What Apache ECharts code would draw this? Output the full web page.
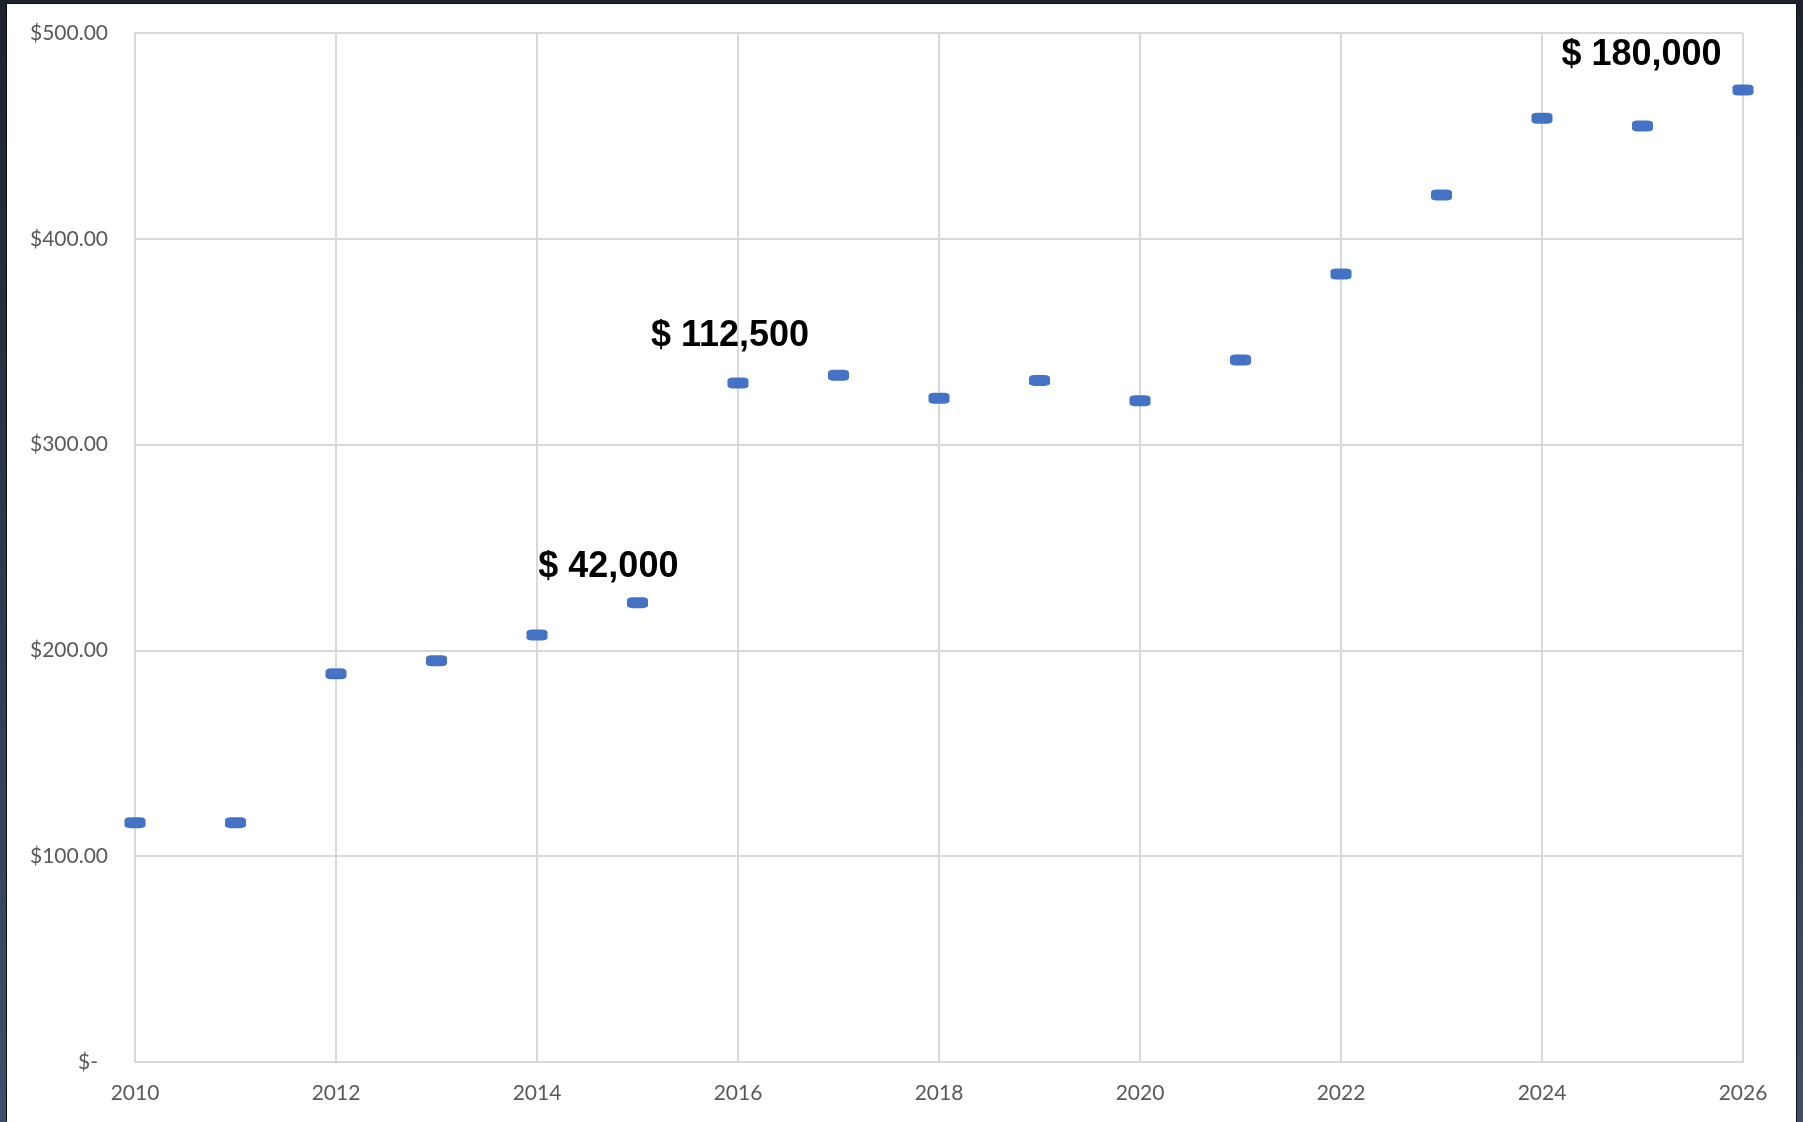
<!DOCTYPE html>
<html>
<head>
<meta charset="utf-8">
<script src="https://cdn.jsdelivr.net/npm/echarts@6/dist/echarts.min.js"></script>
<style>
html,body{margin:0;padding:0;width:1803px;height:1122px;overflow:hidden;}
body{background:linear-gradient(to bottom,#1c232d 0%,#2c3a4e 50%,#3d4f6b 100%);position:relative;}
#frame{position:absolute;left:7px;top:4px;width:1789px;height:1118px;background:#fff;box-shadow:-1px -1px 0 #0d0f12, 1px 0 0 #0d0f12;}
#chart{position:absolute;left:0;top:0;width:1803px;height:1122px;}
</style>
</head>
<body>
<div id="frame"></div>
<div id="chart"></div>
<script>
const years = [2010,2011,2012,2013,2014,2015,2016,2017,2018,2019,2020,2021,2022,2023,2024,2025,2026];
const prices = [116.3,116.3,188.6,195.0,207.5,223.2,329.9,333.7,322.5,331.2,321.3,341.1,382.9,421.3,458.6,454.8,472.3];
const noteX = [2014.71,2015.92,2024.99];
const noteY = [240.3,352.8,489.1];
const noteText = ['$ 42,000','$ 112,500','$ 180,000'];
const xTicks = [2010,2012,2014,2016,2018,2020,2022,2024,2026];
const yTicks = [0,100,200,300,400,500];

const chart = echarts.init(document.getElementById('chart'), null, {renderer:'canvas'});
const gridColor = '#d9d9d9';
const lab = {color:'#595959',fontFamily:'Lato',fontSize:21};
chart.setOption({
  animation:false,
  backgroundColor:'transparent',
  grid:{left:135,top:33,width:1608,height:1029,containLabel:false},
  xAxis:{
    type:'value',min:xTicks[0],max:xTicks[xTicks.length-1],interval:2,
    axisLine:{show:true,lineStyle:{color:gridColor,width:2}},
    axisTick:{show:false},
    splitLine:{show:true,lineStyle:{color:gridColor,width:2}},
    axisLabel:Object.assign({margin:21,formatter:v=>String(v)},lab)
  },
  yAxis:{
    type:'value',min:yTicks[0],max:yTicks[yTicks.length-1],interval:100,
    axisLine:{show:true,lineStyle:{color:gridColor,width:2}},
    axisTick:{show:false},
    splitLine:{show:true,lineStyle:{color:gridColor,width:2}},
    axisLabel:Object.assign({margin:27,
      formatter:v=> v===0 ? '{z|$-}' : '{n|$'+v.toFixed(2)+'}',
      rich:{z:Object.assign({padding:[0,10,0,0]},lab), n:Object.assign({},lab)}},lab)
  },
  series:[
    {
      type:'scatter',
      data:years.map((y,i)=>[y,prices[i]]),
      symbol:'roundRect',
      symbolSize:[21,11],
      itemStyle:{color:'#4472c4',opacity:1},
      z:3
    },
    {
      type:'scatter',
      data:noteX.map((x,i)=>({value:[x,noteY[i]],name:noteText[i]})),
      symbolSize:0,
      silent:true,
      itemStyle:{opacity:1},
      label:{show:true,position:[0,0],align:'center',verticalAlign:'middle',formatter:p=>p.name,
        fontFamily:'Liberation Sans, Arial',fontWeight:'bold',fontSize:36,color:'#000000',
        textBorderWidth:0,opacity:1},
      z:4
    }
  ]
});
</script>
</body>
</html>
